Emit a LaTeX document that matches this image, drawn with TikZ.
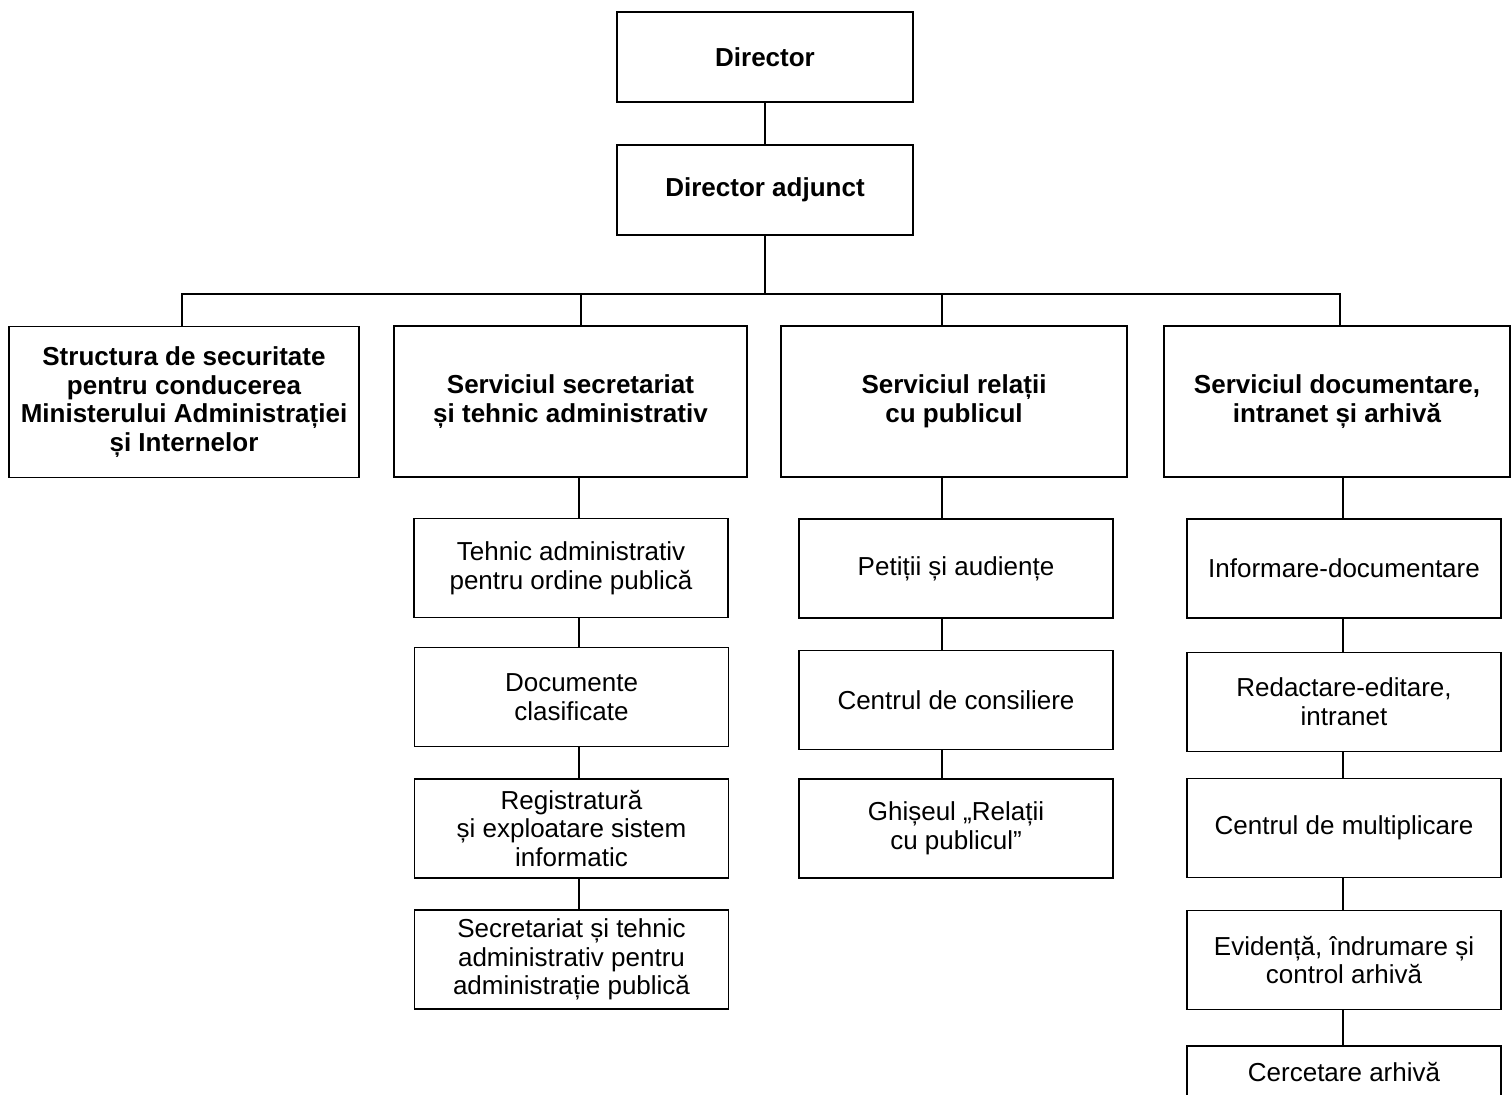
\documentclass[tikz,border=0pt]{standalone}
\usepackage{fontspec}
\setmainfont{Liberation Sans}
\begin{document}
\begin{tikzpicture}[x=0.5pt,y=-0.5pt,line width=0.9pt,
		every node/.style={draw, align=center, inner sep=2pt, font=\fontsize{13}{14.4}\selectfont},
		head/.style={minimum width=148pt, minimum height=45pt, font=\fontsize{13}{14.4}\selectfont\bfseries},
		dept/.style={minimum width=173pt, minimum height=75.5pt, font=\fontsize{13}{14.4}\selectfont\bfseries},
		unit/.style={minimum width=157pt, minimum height=49.5pt}]
		\useasboundingbox (0,0) rectangle (1511,1094);
		\node[head] (dir) at (765,57) {Director};
		\node[head] (adj) at (765,190) {Director adjunct};
		\node[dept, minimum width=175pt] (s1) at (184,402) {Structura de securitate\\pentru conducerea\\Ministerului Administrației\\și Internelor};
		\node[dept, minimum width=176.5pt] (s2) at (570.5,401.5) {Serviciul secretariat\\și tehnic administrativ};
		\node[dept] (s3) at (954,401.5) {Serviciul relații\\cu publicul};
		\node[dept] (s4) at (1337,401.5) {Serviciul documentare,\\intranet și arhivă};
		\node[unit] (a1) at (571,568) {Tehnic administrativ\\pentru ordine publică};
		\node[unit] (a2) at (571.5,697) {Documente\\clasificate};
		\node[unit] (a3) at (571.5,828.5) {Registratură\\și exploatare sistem\\informatic};
		\node[unit] (a4) at (571.5,959.5) {Secretariat și tehnic\\administrativ pentru\\administrație publică};
		\node[unit] (b1) at (956,568.5) {Petiții și audiențe};
		\node[unit] (b2) at (956,700) {Centrul de consiliere};
		\node[unit] (b3) at (956,828.5) {Ghișeul „Relații\\cu publicul”};
		\node[unit] (c1) at (1344,568.5) {Informare-documentare};
		\node[unit] (c2) at (1344,702) {Redactare-editare,\\intranet};
		\node[unit] (c3) at (1344,828) {Centrul de multiplicare};
		\node[unit] (c4) at (1344,960) {Evidență, îndrumare și\\control arhivă};
		\node[unit, minimum height=26pt] (c5) at (1344,1072) {Cercetare arhivă};
		\coordinate (bus) at (765,294);
		\coordinate (sp2) at (579,0);
		\coordinate (sp3) at (942,0);
		\coordinate (sp4) at (1343,0);
		\draw (dir) -- (adj);
		\draw (adj) -- (bus);
		\draw (bus) -| ([xshift=-1pt]s1.north);
		\draw (bus) -| ([xshift=5.25pt]s2.north);
		\draw (bus) -| ([xshift=-6pt]s3.north);
		\draw (bus) -| ([xshift=1.5pt]s4.north);
		\foreach \u/\v in {s2/a1,a1/a2,a2/a3,a3/a4}
		\draw (\u.south -| sp2) -- (\v.north -| sp2);
		\foreach \u/\v in {s3/b1,b1/b2,b2/b3}
		\draw (\u.south -| sp3) -- (\v.north -| sp3);
		\foreach \u/\v in {s4/c1,c1/c2,c2/c3,c3/c4,c4/c5}
		\draw (\u.south -| sp4) -- (\v.north -| sp4);
\end{tikzpicture}
\end{document}
